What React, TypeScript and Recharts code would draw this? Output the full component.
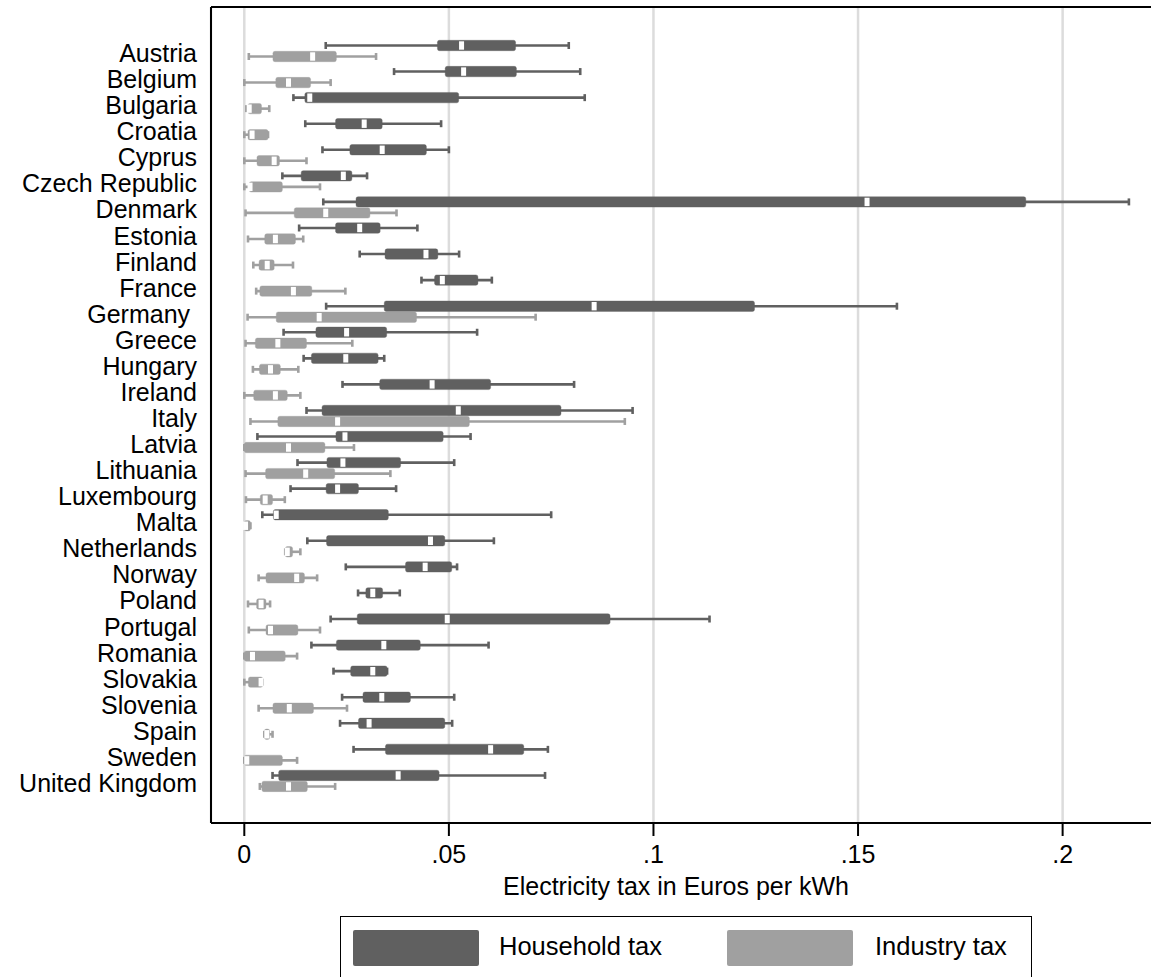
import React from "react";
import { BarChart, Bar, XAxis, YAxis, CartesianGrid } from "recharts";

const countries = [
  "Austria", "Belgium", "Bulgaria", "Croatia", "Cyprus", "Czech Republic", "Denmark",
  "Estonia", "Finland", "France", "Germany ", "Greece", "Hungary", "Ireland", "Italy",
  "Latvia", "Lithuania", "Luxembourg", "Malta", "Netherlands", "Norway", "Poland",
  "Portugal", "Romania", "Slovakia", "Slovenia", "Spain", "Sweden", "United Kingdom",
];

// household tax, EUR per kWh
const householdMin = [0.0199, 0.0366, 0.012, 0.0149, 0.0191, 0.0093, 0.0193, 0.0134, 0.0282, 0.0433, 0.02, 0.0096, 0.0145, 0.024, 0.0152, 0.0032, 0.013, 0.0113, 0.0044, 0.0154, 0.0248, 0.0278, 0.0211, 0.0164, 0.0218, 0.0239, 0.0234, 0.0267, 0.0069];
const householdQ1 = [0.0472, 0.0491, 0.0148, 0.0223, 0.0258, 0.0139, 0.0273, 0.0223, 0.0344, 0.0465, 0.0342, 0.0175, 0.0164, 0.0331, 0.019, 0.0224, 0.0202, 0.02, 0.0071, 0.0201, 0.0394, 0.0297, 0.0276, 0.0225, 0.026, 0.029, 0.0279, 0.0345, 0.0084];
const householdMedian = [0.0531, 0.0536, 0.016, 0.0293, 0.0337, 0.0242, 0.1522, 0.0282, 0.0444, 0.0484, 0.0855, 0.025, 0.0248, 0.0459, 0.0523, 0.0246, 0.0241, 0.0228, 0.0078, 0.0455, 0.0442, 0.0314, 0.0496, 0.0341, 0.0314, 0.0336, 0.0305, 0.0602, 0.0376];
const householdQ3 = [0.0663, 0.0665, 0.0524, 0.0337, 0.0445, 0.0263, 0.191, 0.0332, 0.0473, 0.0571, 0.1247, 0.0348, 0.0327, 0.0602, 0.0774, 0.0486, 0.0382, 0.0279, 0.0352, 0.049, 0.0507, 0.0338, 0.0894, 0.043, 0.0349, 0.0406, 0.049, 0.0683, 0.0476];
const householdMax = [0.0793, 0.0821, 0.0832, 0.0481, 0.05, 0.03, 0.2162, 0.0423, 0.0525, 0.0605, 0.1595, 0.0569, 0.0342, 0.0806, 0.0949, 0.0553, 0.0513, 0.0371, 0.075, 0.061, 0.052, 0.038, 0.1137, 0.0597, 0.0349, 0.0513, 0.0508, 0.0742, 0.0735];

// industry tax, EUR per kWh
const industryMin = [0.0011, 0, 0.0005, 0, 0, 0, 0.0003, 0.0009, 0.0022, 0.0029, 0.0008, 0.0003, 0.0021, 0, 0.0015, 0, 0.0003, 0.0004, 0, 0.01, 0.0035, 0.0009, 0.0011, 0, 0, 0.0035, 0.0049, 0, 0.0038];
const industryQ1 = [0.007, 0.0077, 0.0009, 0.0009, 0.0031, 0.0012, 0.0122, 0.005, 0.0036, 0.0038, 0.0078, 0.0027, 0.0037, 0.0023, 0.0082, 0, 0.0052, 0.0039, 0, 0.01, 0.0053, 0.003, 0.0053, 0, 0.001, 0.007, 0.0049, 0, 0.0043];
const industryMedian = [0.0167, 0.0108, 0.0012, 0.0019, 0.0073, 0.0014, 0.0199, 0.0076, 0.0056, 0.012, 0.0183, 0.0082, 0.0064, 0.0076, 0.0228, 0.0108, 0.015, 0.0051, 0.0003, 0.0105, 0.0128, 0.0041, 0.0064, 0.002, 0.0041, 0.011, 0.0055, 0.0006, 0.0108];
const industryQ3 = [0.0225, 0.0162, 0.0042, 0.0058, 0.0086, 0.0093, 0.0307, 0.0125, 0.0073, 0.0165, 0.0421, 0.0152, 0.0088, 0.0105, 0.055, 0.0197, 0.0221, 0.0069, 0.0015, 0.0118, 0.0147, 0.0053, 0.0131, 0.01, 0.0045, 0.0169, 0.0062, 0.0093, 0.0154];
const industryMax = [0.0322, 0.0211, 0.0061, 0.0058, 0.0152, 0.0185, 0.0372, 0.0144, 0.0119, 0.0247, 0.0712, 0.0264, 0.0132, 0.0137, 0.093, 0.0268, 0.0357, 0.0099, 0.0015, 0.0137, 0.0178, 0.0063, 0.0185, 0.0129, 0.0045, 0.0251, 0.0069, 0.0129, 0.0222];

const xTicks = [0, 0.05, 0.1, 0.15, 0.2];
const xDomain = [-0.00814, 0.2238];

const HOUSEHOLD = "#606060";
const INDUSTRY = "#a0a0a0";
const FONT = '"Liberation Sans", Arial, Helvetica, sans-serif';

const rows = countries.map((country, i) => ({
  country,
  household: [householdMin[i], householdMax[i]],
  industry: [industryMin[i], industryMax[i]],
  h: [householdMin[i], householdQ1[i], householdMedian[i], householdQ3[i], householdMax[i]],
  ind: [industryMin[i], industryQ1[i], industryMedian[i], industryQ3[i], industryMax[i]],
}));

// the bar spans min..max, so its geometry gives the x scale for the other stats
const makeBoxShape = (key: "h" | "ind", color: string) => (props: any) => {
  const { x, y, width, height, payload } = props;
  const [mn, q1, med, q3, mx] = payload[key];
  const px = (v: number) => x + ((v - mn) / (mx - mn)) * width;
  const cy = y + height / 2;
  return (
    <g>
      <line x1={px(mn)} x2={px(mx)} y1={cy} y2={cy} stroke={color} strokeWidth={2.6} />
      <rect x={px(mn) - 1.3} y={cy - 3.5} width={2.6} height={7} fill={color} />
      <rect x={px(mx) - 1.3} y={cy - 3.5} width={2.6} height={7} fill={color} />
      <rect x={px(q1)} y={y + 0.3} width={Math.max(px(q3) - px(q1), 0.5)} height={height - 0.6} rx={2} fill={color} stroke={color} strokeOpacity={0.6} strokeWidth={0.6} />
      <rect x={px(med) - 2.5} y={cy - 4.2} width={5} height={8.4} fill="#fff" />
    </g>
  );
};

const CountryTick = ({ x, y, payload }: any) => (
  <text x={x} y={y} dy={11} textAnchor="end" fontSize={25} fill="#000" fontFamily={FONT} style={{ whiteSpace: "pre" }}>
    {payload.value}
  </text>
);

const ValueTick = ({ x, y, payload }: any) => (
  <text x={x} y={y} dy={25} textAnchor="middle" fontSize={25} fill="#000" fontFamily={FONT}>
    {payload.value === 0 ? "0" : String(payload.value).replace(/^0/, "")}
  </text>
);

const AxisTitle = () => (
  <text x={676} y={895} textAnchor="middle" fontSize={25} fill="#000" fontFamily={FONT}>
    Electricity tax in Euros per kWh
  </text>
);

const swatch = (left: number, color: string): React.CSSProperties => ({
  position: "absolute", left, top: 13, width: 126, height: 36, background: color, borderRadius: 2,
});

const legendText = (left: number): React.CSSProperties => ({
  position: "absolute", left, top: 17, fontSize: 25.5, lineHeight: "25px", color: "#000", whiteSpace: "nowrap",
});

export default function App() {
  return (
    <div style={{ position: "absolute", left: 0, top: 0, width: 1151, height: 977, overflow: "hidden", background: "#fff", fontFamily: FONT }}>
      <BarChart
        width={1170}
        height={977}
        layout="vertical"
        data={rows}
        margin={{ top: 6, right: 10, bottom: 94, left: 0 }}
        barSize={11}
        barGap={0}
      >
        <CartesianGrid horizontal={false} stroke="#dcdcdc" strokeWidth={2.5} />
        <XAxis
          type="number"
          domain={xDomain}
          ticks={xTicks}
          allowDataOverflow
          height={60}
          tickSize={13}
          tickLine={{ stroke: "#000", strokeWidth: 2 }}
          axisLine={{ stroke: "#000", strokeWidth: 2 }}
          tick={<ValueTick />}
          label={<AxisTitle />}
        />
        <XAxis
          xAxisId="top"
          orientation="top"
          type="number"
          domain={xDomain}
          ticks={xTicks}
          allowDataOverflow
          height={1}
          tick={false}
          tickLine={false}
          axisLine={{ stroke: "#000", strokeWidth: 2 }}
        />
        <YAxis
          type="category"
          dataKey="country"
          width={211}
          padding={{ top: 31, bottom: 29 }}
          tickSize={0}
          tickMargin={14}
          tickLine={false}
          axisLine={{ stroke: "#000", strokeWidth: 2 }}
          tick={<CountryTick />}
          interval={0}
        />
        <Bar dataKey="household" shape={makeBoxShape("h", HOUSEHOLD)} isAnimationActive={false} />
        <Bar dataKey="industry" shape={makeBoxShape("ind", INDUSTRY)} isAnimationActive={false} />
      </BarChart>
      <div style={{ position: "absolute", left: 340, top: 916, width: 692, height: 100, border: "1.5px solid #000", boxSizing: "border-box" }}>
        <div style={swatch(12, HOUSEHOLD)} />
        <span style={legendText(158)}>Household tax</span>
        <div style={swatch(386, INDUSTRY)} />
        <span style={legendText(534)}>Industry tax</span>
      </div>
    </div>
  );
}
